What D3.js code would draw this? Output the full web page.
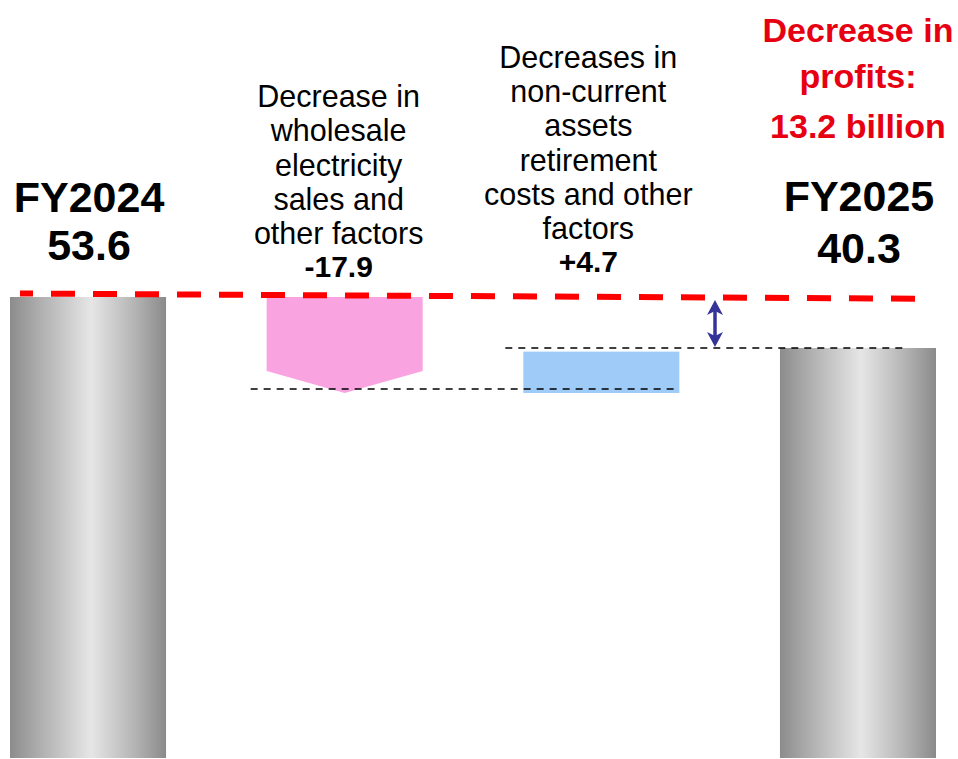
<!DOCTYPE html>
<html>
<head>
<meta charset="utf-8">
<script src="https://cdn.jsdelivr.net/npm/d3@7"></script>
<style>
  body { margin: 0; background: #fff; }
  svg { display: block; }
  text { font-family: "Liberation Sans", Arial, sans-serif; }
</style>
</head>
<body>
<div id="chart"></div>
<script>
// values in billion yen
const categories = ['FY2024', 'wholesale', 'retirement', 'FY2025'];
const totalLabels = ['FY2024', 'FY2025'];
const totals = [53.6, 40.3];
const changes = [-17.9, 4.7];
const changeLabels = [
  ['Decrease in', 'wholesale', 'electricity', 'sales and', 'other factors'],
  ['Decreases in', 'non-current', 'assets', 'retirement', 'costs and other', 'factors']
];
const summaryLines = ['Decrease in', 'profits:', '13.2 billion'];

const width = 958, height = 759;

const svg = d3.select('#chart').append('svg')
  .attr('width', width)
  .attr('height', height);

// running levels of the waterfall
const start = totals[0];
const afterFirst = start + changes[0];
const afterSecond = afterFirst + changes[1];
const end = totals[1];

const x = d3.scaleBand()
  .domain(categories)
  .range([10, 936])
  .paddingInner(0.392)
  .paddingOuter(0);

// the picture is not drawn to scale, so a piecewise scale follows it
const y = d3.scaleLinear()
  .domain([afterFirst, end, start])
  .range([389, 348, 297]);

const bottom = height - 1;
const bw = x.bandwidth();

// cylinder gradient for the total bars
const grad = svg.append('defs').append('linearGradient')
  .attr('id', 'cyl')
  .attr('x1', '0%').attr('x2', '100%')
  .attr('y1', '0%').attr('y2', '0%');
[[0, '#8c8c8c'], [0.2, '#b0b0b0'], [0.52, '#e6e6e6'], [0.8, '#b4b4b4'], [1, '#8a8a8a']]
  .forEach(([o, c]) => grad.append('stop').attr('offset', o).attr('stop-color', c));

// total bars
svg.append('g')
  .selectAll('rect')
  .data([{ cat: categories[0], v: totals[0] }, { cat: categories[3], v: totals[1] }])
  .join('rect')
    .attr('x', d => x(d.cat))
    .attr('y', d => y(d.v))
    .attr('width', bw)
    .attr('height', d => bottom - y(d.v))
    .attr('fill', 'url(#cyl)');

// decrease: pink block with arrow point
const x1 = x(categories[1]);
const tipY = y(afterFirst) + 4;
svg.append('path')
  .attr('d', [
    [x1, y(start)], [x1 + bw, y(start)], [x1 + bw, tipY - 22],
    [x1 + bw / 2, tipY], [x1, tipY - 22]
  ].map((p, i) => (i ? 'L' : 'M') + p[0] + ',' + p[1]).join('') + 'Z')
  .attr('fill', '#f9a3e1');

// increase: blue block
const x2 = x(categories[2]);
svg.append('rect')
  .attr('x', x2)
  .attr('y', y(afterSecond) + 4)
  .attr('width', bw)
  .attr('height', y(afterFirst) + 4 - y(afterSecond) - 4)
  .attr('fill', '#9fcbf8');

// black dashed guide lines
svg.append('line')
  .attr('x1', x1 - 16).attr('x2', x2 + bw)
  .attr('y1', y(afterFirst)).attr('y2', y(afterFirst))
  .attr('stroke', '#000').attr('stroke-width', 1.5)
  .attr('stroke-dasharray', '7,6');
svg.append('line')
  .attr('x1', x2 - 18).attr('x2', 905)
  .attr('y1', y(end)).attr('y2', y(end))
  .attr('stroke', '#000').attr('stroke-width', 1.5)
  .attr('stroke-dasharray', '7,6');

// red dashed line at the FY2024 level
svg.append('line')
  .attr('x1', 20).attr('x2', 915)
  .attr('y1', y(start) - 3.5).attr('y2', y(start) + 1.7)
  .attr('stroke', '#ff0000').attr('stroke-width', 6)
  .attr('stroke-dasharray', '24,18')
  .attr('stroke-dashoffset', 11);

// double arrow showing the gap
const ax = 715, ay1 = y(start) + 3, ay2 = y(end) - 1;
svg.append('line')
  .attr('x1', ax).attr('x2', ax)
  .attr('y1', ay1 + 10).attr('y2', ay2 - 10)
  .attr('stroke', '#333399').attr('stroke-width', 3.5);
svg.append('path')
  .attr('d', `M${ax},${ay1}L${ax + 8},${ay1 + 15}L${ax},${ay1 + 11}L${ax - 8},${ay1 + 15}Z` +
             `M${ax},${ay2}L${ax + 8},${ay2 - 15}L${ax},${ay2 - 11}L${ax - 8},${ay2 - 15}Z`)
  .attr('fill', '#333399');

// total labels
const totalText = [
  { cat: categories[0], name: totalLabels[0], v: totals[0], y1: 212, y2: 260 },
  { cat: categories[3], name: totalLabels[1], v: totals[1], y1: 211, y2: 263 }
];
totalText.forEach(d => {
  const cx = x(d.cat) + bw / 2 + 1;
  const t = svg.append('text')
    .attr('text-anchor', 'middle')
    .attr('font-size', 43).attr('font-weight', 'bold');
  t.append('tspan').attr('x', cx).attr('y', d.y1).text(d.name);
  t.append('tspan').attr('x', cx).attr('y', d.y2).text(d3.format('.1f')(d.v));
});

// change labels
const changeLayout = [
  { cat: categories[1], dx: -6, valueY: 277 },
  { cat: categories[2], dx: -13, valueY: 272 }
];
changeLayout.forEach((l, i) => {
  const cx = x(l.cat) + bw / 2 + l.dx;
  const lines = changeLabels[i];
  const lastY = l.valueY - 33;
  const t = svg.append('text')
    .attr('text-anchor', 'middle')
    .attr('font-size', 30.5);
  t.selectAll('tspan')
    .data(lines)
    .join('tspan')
      .attr('x', cx)
      .attr('y', (d, j) => lastY - (lines.length - 1 - j) * 34.2)
      .text(d => d);
  t.append('tspan')
    .attr('x', cx).attr('y', l.valueY)
    .attr('font-size', 30).attr('font-weight', 'bold')
    .text(d3.format('+.1f')(changes[i]).replace('−', '-'));
});

// red summary
const summaryY = [42, 88, 138];
const s = svg.append('text')
  .attr('text-anchor', 'middle')
  .attr('font-size', 34).attr('font-weight', 'bold')
  .attr('fill', '#e60012');
s.selectAll('tspan')
  .data(summaryLines)
  .join('tspan')
    .attr('x', x(categories[3]) + bw / 2)
    .attr('y', (d, i) => summaryY[i])
    .text(d => d);
</script>
</body>
</html>
